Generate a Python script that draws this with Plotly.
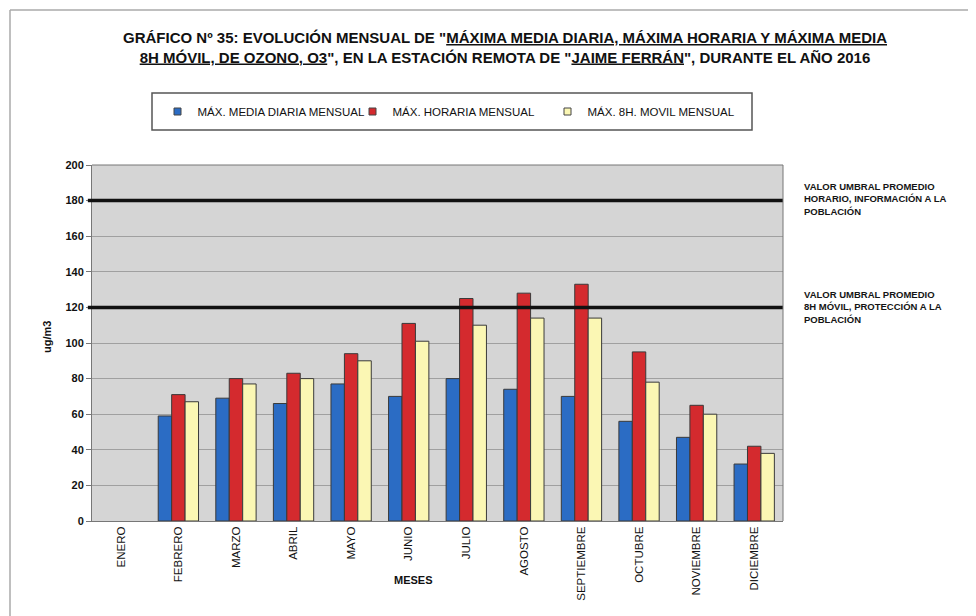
import plotly.graph_objects as go

months = ["ENERO", "FEBRERO", "MARZO", "ABRIL", "MAYO", "JUNIO", "JULIO",
          "AGOSTO", "SEPTIEMBRE", "OCTUBRE", "NOVIEMBRE", "DICIEMBRE"]
media_diaria = [None, 59, 69, 66, 77, 70, 80, 74, 70, 56, 47, 32]
horaria = [None, 71, 80, 83, 94, 111, 125, 128, 133, 95, 65, 42]
movil_8h = [None, 67, 77, 80, 90, 101, 110, 114, 114, 78, 60, 38]

umbral_informacion = 180
umbral_proteccion = 120
y_ticks = [0, 20, 40, 60, 80, 100, 120, 140, 160, 180, 200]

series_names = ["MÁX. MEDIA DIARIA MENSUAL", "MÁX. HORARIA MENSUAL", "MÁX. 8H. MOVIL MENSUAL"]
colors = ["#2b6cc4", "#d42a2e", "#fbf7b4"]

label_informacion = ["VALOR UMBRAL PROMEDIO", "HORARIO, INFORMACIÓN A LA", "POBLACIÓN"]
label_proteccion = ["VALOR UMBRAL PROMEDIO", "8H MÓVIL, PROTECCIÓN A LA", "POBLACIÓN"]

FONT = "Liberation Sans, Arial, sans-serif"

# The page body adds an 8px margin, so the figure is drawn 8px smaller.
W, H = 968, 608
L, R, T, B = 84, 193, 157, 95
PW, PH = W - L - R, H - T - B
px_per_unit = PH / 200.0

fig = go.Figure()
for name, vals, col in zip(series_names, [media_diaria, horaria, movil_8h], colors):
    fig.add_trace(go.Bar(x=months, y=vals, name=name, marker_color=col,
                         marker_line=dict(color="#3a3a3a", width=1),
                         legendgroup=name, showlegend=False))
    fig.add_trace(go.Scatter(x=[None], y=[None], mode="markers", name=name,
                             legendgroup=name, showlegend=True,
                             marker=dict(symbol="square", size=7, color=col,
                                         line=dict(color="#444", width=1))))

title = ("<b>GRÁFICO Nº 35: EVOLUCIÓN MENSUAL DE \"<u>MÁXIMA MEDIA DIARIA, MÁXIMA HORARIA Y MÁXIMA MEDIA</u>"
         "<br><u>8H MÓVIL, DE OZONO, O3</u>\", EN LA ESTACIÓN REMOTA DE \"<u>JAIME FERRÁN</u>\", DURANTE EL AÑO 2016</b>")

for yv in [umbral_informacion, umbral_proteccion]:
    fig.add_shape(type="line", xref="paper", yref="y", x0=-0.006, x1=1, y0=yv, y1=yv,
                  line=dict(color="#111111", width=3.5))

line_step = 12.5 / px_per_unit
for base, lines in [(umbral_informacion + 8, label_informacion), (umbral_proteccion + 7.5, label_proteccion)]:
    for i, txt in enumerate(lines):
        fig.add_annotation(xref="paper", yref="y", x=(802 - 92) / PW, y=base - i * line_step,
                           xanchor="left", yanchor="middle", showarrow=False, text=txt,
                           font=dict(family=FONT, size=9.5, color="#151515", weight="bold"))

# axis titles
fig.add_annotation(xref="paper", yref="paper", x=(39 - 92) / PW, y=(521 - 337) / PH, textangle=-90,
                   showarrow=False, text="<b>ug/m3</b>", font=dict(family=FONT, size=11, color="#111"))
fig.add_annotation(xref="paper", yref="paper", x=(413 - 92) / PW, y=(521 - 588) / PH,
                   showarrow=False, text="<b>MESES</b>", font=dict(family=FONT, size=11, color="#111"))

# legend box
fig.add_shape(type="rect", xref="paper", yref="paper",
              x0=(152 - 92) / PW, x1=(752 - 92) / PW, y0=(521 - 130) / PH, y1=(521 - 93) / PH,
              line=dict(color="#555", width=1.5), fillcolor="white", layer="below")

# outer frame (top and left edges visible)
fig.add_shape(type="line", xref="paper", yref="paper", x0=(10 - 92) / PW, x1=(976 - 92) / PW,
              y0=(521 - 10) / PH, y1=(521 - 10) / PH, line=dict(color="#aaaaaa", width=1.5))
fig.add_shape(type="line", xref="paper", yref="paper", x0=(10 - 92) / PW, x1=(10 - 92) / PW,
              y0=(521 - 10) / PH, y1=(521 - 620) / PH, line=dict(color="#aaaaaa", width=1.5))

fig.add_shape(type="line", xref="paper", yref="paper", x0=1, x1=1, y0=0, y1=1, line=dict(color="#777", width=1))
fig.add_shape(type="line", xref="paper", yref="paper", x0=0, x1=1, y0=1, y1=1, line=dict(color="#777", width=1))

fig.update_layout(
    width=W, height=H,
    margin=dict(l=L, r=R, t=T, b=B, autoexpand=False),
    paper_bgcolor="white", plot_bgcolor="#d5d5d5",
    font=dict(family=FONT, size=10, color="#111"),
    title=dict(text=title, xref="container", x=(505 - 8) / W, xanchor="center",
               y=1 - (43 - 8) / H, yanchor="middle",
               font=dict(family=FONT, size=15, color="#111")),
    barmode="group", bargap=0.3, bargroupgap=0.0,
    showlegend=True,
    legend=dict(orientation="h", x=(450 - 92) / PW, xanchor="center", y=(521 - 111.5) / PH,
                yanchor="middle", bgcolor="rgba(0,0,0,0)", borderwidth=0,
                font=dict(family=FONT, size=11.5, color="#111"),
                entrywidth=150, traceorder="normal", itemclick=False),
    xaxis=dict(tickangle=-90, showline=True, linecolor="#777", mirror=False,
               ticks="", tickfont=dict(size=11.5, color="#111")),
    yaxis=dict(range=[0, 200], tickvals=y_ticks, showgrid=True, gridcolor="#a0a0a0",
               gridwidth=1, showline=True, linecolor="#777", ticks="outside", ticklen=5,
               tickcolor="#777", tickfont=dict(size=11, color="#111", weight="bold"),
               zeroline=False),
)

fig.write_html("out.html")
